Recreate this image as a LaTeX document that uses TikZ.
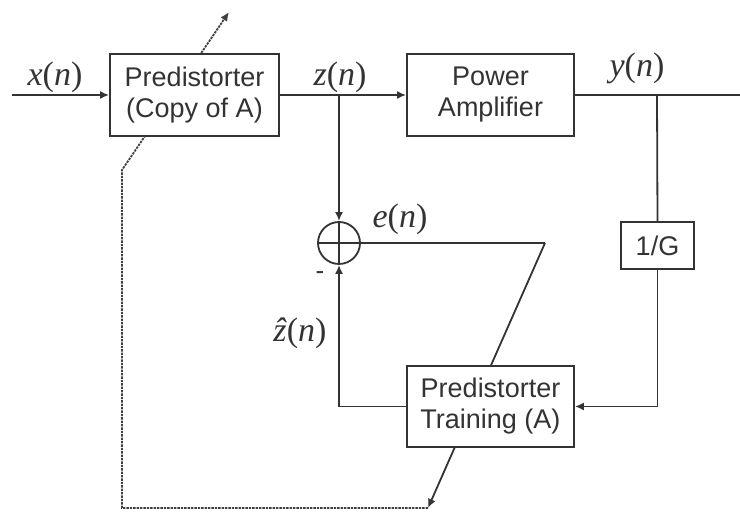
\documentclass[tikz,border=0pt]{standalone}
\usepackage{fontspec}
\setmainfont{Liberation Sans}
\newfontfamily\sigfont{Liberation Serif}
\usetikzlibrary{arrows.meta,backgrounds}

\begin{document}
\begin{tikzpicture}[
  x=0.5pt, y=-0.5pt,
  >={Latex[length=4.5pt,width=4pt]},
  line width=0.9pt, draw=black!80,
  box/.style={rectangle, draw=black!80, line width=0.9pt, fill=white, align=center,
              inner sep=0pt, font=\fontsize{13.5}{15.5}\selectfont, text=black!80},
  sumnode/.style={circle, draw=black!80, line width=0.9pt, fill=white,
                  minimum size=21pt, inner sep=0pt},
  sig/.style={font=\sigfont\fontsize{17}{20}\selectfont, text=black!80},
  arr/.style={->, draw=black!80, line width=0.9pt},
  adapt/.style={->, draw=black!75, line width=0.9pt, dash pattern=on 1.2pt off 0.5pt},
]
\useasboundingbox (0,0) rectangle (740,512);

% ---------------------------------------------------------------- forward path
\node[box, minimum width=84.5pt, minimum height=41pt] (pd) at (194.5,95) {Predistorter\\(Copy of A)};
\node[box, minimum width=83.5pt, minimum height=41pt] (pa) at (490.5,95) {Power\\Amplifier};
\coordinate (in) at (12,95);
\coordinate (zsplit) at (339,95);
\coordinate (ysplit) at (657,95);
\coordinate (out) at (740,95);

\draw[arr] (in) -- (pd.west);
\draw (pd.east) -- (zsplit);
\draw[arr] (zsplit) -- (pa.west);
\draw (pa.east) -- (out);

\node[sig] (xlab) at (55,77) {\textit{x}(\textit{n})};
\node[sig] (zlab) at (340,77) {\textit{z}(\textit{n})};
\node[sig] (ylab) at (637,68) {\textit{y}(\textit{n})};

% --------------------------------------------------------------- training loop
\node[sumnode] (sum) at (339,243) {};
\draw (sum.north) -- (sum.south) (sum.west) -- (sum.east);
\node[box, minimum width=36.5pt, minimum height=23.5pt] (gain) at (657.5,245.5) {1/G};
\node[box, minimum width=83.5pt, minimum height=40.5pt] (tr) at (490.5,406.5) {Predistorter\\Training (A)};
\coordinate (ecorner) at (545,243);

\draw[arr] (zsplit) -- (sum.north);
\draw (ysplit) -- (gain.north);
\draw[arr] (gain.south) |- (tr.east);
\draw[arr] (tr.west) -| (sum.south);
\draw (sum.east) -- (ecorner);

\node[sig] (elab) at (400,219) {\textit{e}(\textit{n})};
\node[sig] (zhlab) at (300,333) {\textit{\^z}(\textit{n})};
\node[font=\fontsize{13}{15}\selectfont, text=black!80] (minus) at (320,276) {-};

% the error line crosses the training block and its new coefficients go back to the copy
\coordinate (tip) at (428,508);
\coordinate (corner) at (122,508);
\coordinate (bend) at (122,170);
\coordinate (adj) at (229,12);
\begin{scope}[on background layer]
  \draw[arr] (ecorner) -- (tip);
  \draw[adapt] (tip) -- (corner) -- (bend) -- (adj);
\end{scope}
\end{tikzpicture}
\end{document}
